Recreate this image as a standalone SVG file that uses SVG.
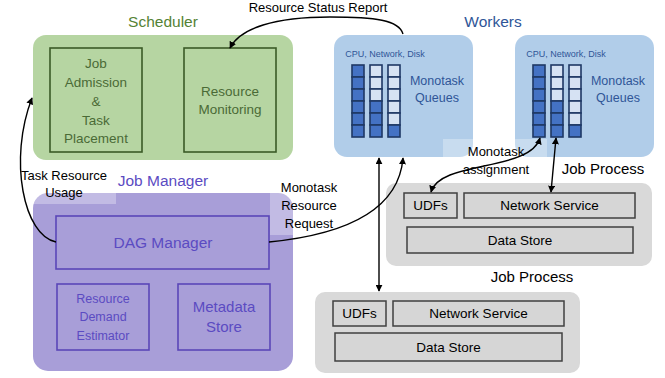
<svg xmlns="http://www.w3.org/2000/svg" width="665" height="378" viewBox="0 0 665 378">
<defs>
<marker id="ah" viewBox="0 0 10 10" refX="9" refY="5" markerWidth="7" markerHeight="7" markerUnits="userSpaceOnUse" orient="auto-start-reverse">
<path d="M0,0 L10,5 L0,10 z" fill="#000"/>
</marker>
<style>
text{font-family:"Liberation Sans",Arial,sans-serif;text-anchor:middle}
.lbl{font-size:13px;fill:#000}
.title{font-size:15.5px}
.sched{fill:#b6d5a2}
.sbox{fill:none;stroke:#3b5a27;stroke-width:1.6}
.stxt{font-size:13.5px;fill:#4a6a36}
.work{fill:#b1cde9}
.wtxt{fill:#2f5597}
.qd{fill:#4472c4;stroke:#1f3864;stroke-width:1.6}
.ql{fill:#d6e2f3;stroke:#1f3864;stroke-width:1.6}
.jm{fill:#a89ed8}
.jbox{fill:none;stroke:#5a46b8;stroke-width:1.6}
.jtxt{fill:#5b4bc2}
.jp{fill:#d9d9d9}
.pbox{fill:#d6d6d6;stroke:#404040;stroke-width:1.5}
.ptxt{font-size:13.5px;fill:#000}
.conn{fill:none;stroke:#000;stroke-width:1.4}
.lbg{fill:#fff;opacity:0.3}
</style>
</defs>

<g id="scheduler">
<text x="163" y="27" class="title" fill="#548235">Scheduler</text>
<rect x="33" y="35" width="260" height="125" rx="13" class="sched"/>
<g id="job-admission">
<rect x="50" y="48" width="92" height="104" class="sbox"/>
<text class="stxt" x="96" y="68">Job</text>
<text class="stxt" x="96" y="87">Admission</text>
<text class="stxt" x="96" y="106">&amp;</text>
<text class="stxt" x="96" y="125">Task</text>
<text class="stxt" x="96" y="143">Placement</text>
</g>
<g id="resource-monitoring">
<rect x="184" y="48" width="92" height="104" class="sbox"/>
<text class="stxt" x="230" y="96">Resource</text>
<text class="stxt" x="230" y="114">Monitoring</text>
</g>
</g>

<g id="workers">
<text x="493" y="27" class="title wtxt">Workers</text>
<g id="worker1">
<rect x="334" y="35" width="139" height="122" rx="13" class="work"/>
<text x="385" y="57" font-size="9" class="wtxt">CPU, Network, Disk</text>
<g>
<rect x="352" y="65" width="12" height="12" class="qd"/><rect x="352" y="77" width="12" height="12" class="qd"/><rect x="352" y="89" width="12" height="12" class="qd"/><rect x="352" y="101" width="12" height="12" class="qd"/><rect x="352" y="113" width="12" height="12" class="qd"/><rect x="352" y="125" width="12" height="12" class="qd"/>
<rect x="370" y="65" width="12" height="12" class="ql"/><rect x="370" y="77" width="12" height="12" class="ql"/><rect x="370" y="89" width="12" height="12" class="ql"/><rect x="370" y="101" width="12" height="12" class="qd"/><rect x="370" y="113" width="12" height="12" class="qd"/><rect x="370" y="125" width="12" height="12" class="qd"/>
<rect x="388" y="65" width="12" height="12" class="ql"/><rect x="388" y="77" width="12" height="12" class="ql"/><rect x="388" y="89" width="12" height="12" class="ql"/><rect x="388" y="101" width="12" height="12" class="ql"/><rect x="388" y="113" width="12" height="12" class="ql"/><rect x="388" y="125" width="12" height="12" class="qd"/>
</g>
<text x="437" y="85" font-size="12.5" class="wtxt">Monotask</text>
<text x="437" y="102" font-size="12.5" class="wtxt">Queues</text>
</g>
<g id="worker2">
<rect x="515" y="35" width="139" height="122" rx="13" class="work"/>
<text x="566" y="57" font-size="9" class="wtxt">CPU, Network, Disk</text>
<g>
<rect x="533" y="65" width="12" height="12" class="qd"/><rect x="533" y="77" width="12" height="12" class="qd"/><rect x="533" y="89" width="12" height="12" class="qd"/><rect x="533" y="101" width="12" height="12" class="qd"/><rect x="533" y="113" width="12" height="12" class="qd"/><rect x="533" y="125" width="12" height="12" class="qd"/>
<rect x="551" y="65" width="12" height="12" class="ql"/><rect x="551" y="77" width="12" height="12" class="ql"/><rect x="551" y="89" width="12" height="12" class="ql"/><rect x="551" y="101" width="12" height="12" class="qd"/><rect x="551" y="113" width="12" height="12" class="qd"/><rect x="551" y="125" width="12" height="12" class="qd"/>
<rect x="569" y="65" width="12" height="12" class="ql"/><rect x="569" y="77" width="12" height="12" class="ql"/><rect x="569" y="89" width="12" height="12" class="ql"/><rect x="569" y="101" width="12" height="12" class="ql"/><rect x="569" y="113" width="12" height="12" class="ql"/><rect x="569" y="125" width="12" height="12" class="qd"/>
</g>
<text x="618" y="85" font-size="12.5" class="wtxt">Monotask</text>
<text x="618" y="102" font-size="12.5" class="wtxt">Queues</text>
</g>
</g>

<g id="job-manager">
<text x="163" y="186" class="title jtxt">Job Manager</text>
<rect x="33" y="193" width="260" height="178" rx="15" class="jm"/>
<g id="dag-manager">
<rect x="56" y="216" width="213" height="53" class="jbox"/>
<text x="163" y="248" font-size="15.5" class="jtxt">DAG Manager</text>
</g>
<g id="resource-demand-estimator">
<rect x="57" y="284" width="92" height="66" class="jbox"/>
<text x="103" y="303" font-size="12.5" class="jtxt">Resource</text>
<text x="103" y="321" font-size="12.5" class="jtxt">Demand</text>
<text x="103" y="340" font-size="12.5" class="jtxt">Estimator</text>
</g>
<g id="metadata-store">
<rect x="178" y="284" width="92" height="66" class="jbox"/>
<text x="224" y="312" font-size="15" class="jtxt">Metadata</text>
<text x="224" y="332" font-size="15" class="jtxt">Store</text>
</g>
</g>

<g id="job-process-1">
<text x="603" y="174" font-size="15" fill="#000">Job Process</text>
<rect x="386" y="183" width="266" height="83" rx="10" class="jp"/>
<rect x="404" y="193" width="53" height="25" class="pbox"/>
<text x="430.5" y="210" class="ptxt">UDFs</text>
<rect x="464" y="193" width="171" height="25" class="pbox"/>
<text x="549.5" y="210" class="ptxt">Network Service</text>
<rect x="407" y="227" width="226" height="26" class="pbox"/>
<text x="520" y="245" class="ptxt">Data Store</text>
</g>

<g id="job-process-2">
<text x="532" y="282" font-size="15" fill="#000">Job Process</text>
<rect x="315" y="292" width="265" height="81" rx="10" class="jp"/>
<rect x="333" y="301" width="53" height="25" class="pbox"/>
<text x="359.5" y="318" class="ptxt">UDFs</text>
<rect x="393" y="301" width="171" height="25" class="pbox"/>
<text x="478.5" y="318" class="ptxt">Network Service</text>
<rect x="335" y="333" width="227" height="28" class="pbox"/>
<text x="448.5" y="352" class="ptxt">Data Store</text>
</g>

<g id="label-backgrounds">
<rect x="33" y="166" width="83" height="38" class="lbg"/>
<rect x="270" y="178" width="23" height="57" class="lbg"/>
<rect x="443" y="139" width="104" height="18" class="lbg"/>
</g>

<g id="connectors">
<path d="M403,34 C399,20 375,17 330,17 C275,17 240,28 230,48" class="conn" marker-end="url(#ah)"/>
<path d="M56,242 C24,236 8,160 32,98" class="conn" marker-end="url(#ah)"/>
<path d="M269,242 C330,236 398,218 403,158" class="conn" marker-end="url(#ah)"/>
<path d="M379,158 L379,291" class="conn" marker-start="url(#ah)" marker-end="url(#ah)"/>
<path d="M540,138 C530,172 440,160 431,192" class="conn" marker-start="url(#ah)" marker-end="url(#ah)"/>
<path d="M556,138 L551,192" class="conn" marker-start="url(#ah)" marker-end="url(#ah)"/>
</g>

<g id="labels">
<text x="318" y="12" class="lbl">Resource Status Report</text>
<text x="64" y="180" class="lbl">Task Resource</text>
<text x="64" y="197" class="lbl">Usage</text>
<text x="309" y="192" class="lbl">Monotask</text>
<text x="309" y="210" class="lbl">Resource</text>
<text x="309" y="228" class="lbl">Request</text>
<text x="496" y="156" class="lbl">Monotask</text>
<text x="496" y="174" class="lbl">assignment</text>
</g>
</svg>
